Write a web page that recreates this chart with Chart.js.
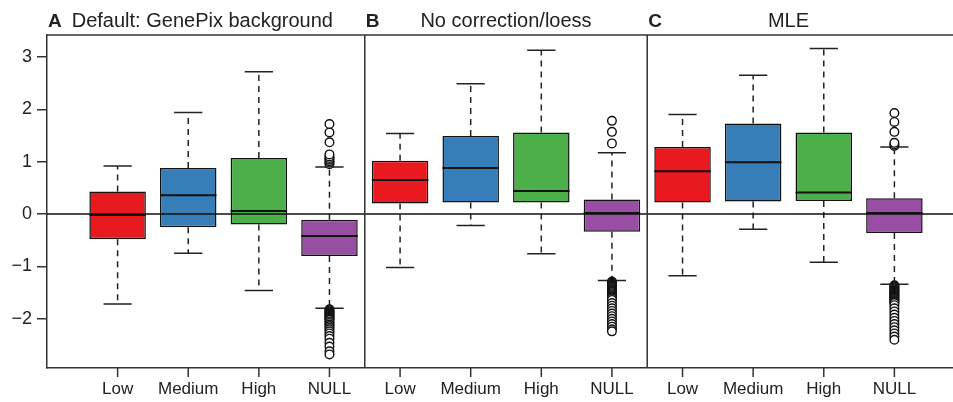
<!DOCTYPE html>
<html><head><meta charset="utf-8">
<script src="https://cdn.jsdelivr.net/npm/chart.js@4/dist/chart.umd.min.js"></script>
<style>html,body{margin:0;padding:0;background:#fff;overflow:hidden}#wrap{width:953px;height:402px;position:absolute;left:0;top:0}</style>
</head><body><div id="wrap"><canvas id="c"></canvas></div>
<script>
const categories = ["Low","Medium","High","NULL"];
const panelTitles = ["Default: GenePix background","No correction/loess","MLE"];
const panelLetters = ["A","B","C"];
const yTickValues = [-2,-1,0,1,2,3];
const boxColors = ["#e8191f","#377eb8","#4daf4a","#984ea3"];

// Panel A
const lowerA = [-1.72,-0.75,-1.46,-1.80];
const q1A    = [-0.48,-0.25,-0.20,-0.80];
const medA   = [-0.02, 0.36, 0.06,-0.42];
const q3A    = [ 0.43, 0.88, 1.07,-0.11];
const upperA = [ 0.92, 1.94, 2.72, 0.90];
const outNullA = [0.95,0.98,1.01,1.04,1.07,1.10,1.14,1.37,1.56,1.72,
  -1.82,-1.84,-1.86,-1.88,-1.90,-1.92,-1.94,-1.96,-1.98,-2.00,-2.02,-2.05,-2.08,-2.11,-2.14,-2.17,-2.20,-2.24,-2.28,-2.33,-2.38,-2.46,-2.53,-2.62,-2.68];
// Panel B
const lowerB = [-1.02,-0.22,-0.76,-1.27];
const q1B    = [ 0.20, 0.22, 0.22,-0.34];
const medB   = [ 0.65, 0.88, 0.44, 0.02];
const q3B    = [ 1.02, 1.49, 1.56, 0.28];
const upperB = [ 1.54, 2.49, 3.13, 1.17];
const outNullB = [1.35,1.57,1.78,
  -1.29,-1.31,-1.33,-1.35,-1.37,-1.39,-1.41,-1.43,-1.45,-1.47,-1.49,-1.51,-1.53,-1.55,-1.57,-1.59,-1.61,-1.64,-1.70,-1.75,-1.80,-1.85,-1.90,-1.95,-2.00,-2.05,-2.10,-2.15,-2.20,-2.24];
// Panel C
const lowerC = [-1.18,-0.29,-0.92,-1.34];
const q1C    = [ 0.22, 0.24, 0.25,-0.36];
const medC   = [ 0.82, 0.99, 0.41, 0.02];
const q3C    = [ 1.28, 1.73, 1.56, 0.30];
const upperC = [ 1.90, 2.65, 3.16, 1.28];
const outNullC = [1.30,1.33,1.36,1.57,1.76,1.93,
  -1.36,-1.38,-1.40,-1.42,-1.44,-1.46,-1.48,-1.50,-1.52,-1.54,-1.56,-1.58,-1.60,-1.62,-1.64,-1.66,-1.68,-1.70,-1.74,-1.80,-1.86,-1.92,-1.98,-2.04,-2.10,-2.16,-2.22,-2.28,-2.34,-2.40];

const panels = [
  {lower:lowerA,q1:q1A,med:medA,q3:q3A,upper:upperA,out:outNullA},
  {lower:lowerB,q1:q1B,med:medB,q3:q3B,upper:upperB,out:outNullB},
  {lower:lowerC,q1:q1C,med:medC,q3:q3C,upper:upperC,out:outNullC}
];

// layout constants (x units: one box spacing)
const X_MIN = 0, X_MAX = 12.83, Y_MIN = -2.94, Y_MAX = 3.42;
const panelStart = [1,5,9];
const dividers = [4.5,8.5];
const titleCenters = [2.2,6.5,10.5];
const letterX = [0,4.5,8.5];
const CAP = 0.2, HALF = 0.4;

const boxData = [], boxBg = [], whisk = [], caps = [], meds = [], outs = [], xTicks = [];
panels.forEach((p,pi)=>{
  categories.forEach((c,ci)=>{
    const x = panelStart[pi]+ci;
    xTicks.push(x);
    boxData.push({x:x, y:[p.q1[ci],p.q3[ci]]});
    boxBg.push(boxColors[ci]);
    whisk.push({x:x,y:p.q3[ci]},{x:x,y:p.upper[ci]},{x:x,y:null},
               {x:x,y:p.q1[ci]},{x:x,y:p.lower[ci]},{x:x,y:null});
    caps.push({x:x-CAP,y:p.upper[ci]},{x:x+CAP,y:p.upper[ci]},{x:x,y:null},
              {x:x-CAP,y:p.lower[ci]},{x:x+CAP,y:p.lower[ci]},{x:x,y:null});
    meds.push({x:x-HALF,y:p.med[ci]},{x:x+HALF,y:p.med[ci]},{x:x,y:null});
  });
  const xn = panelStart[pi]+3;
  p.out.forEach(v=>outs.push({x:xn,y:v}));
});

const framePlugin = {
  id:'frame',
  afterDraw(chart){
    const {ctx, chartArea:a, scales:{x}} = chart;
    ctx.save();
    ctx.strokeStyle='#333'; ctx.lineWidth=1.5;
    ctx.beginPath();
    ctx.moveTo(a.left,a.top); ctx.lineTo(a.right,a.top);
    dividers.forEach(d=>{const px=x.getPixelForValue(d); ctx.moveTo(px,a.top); ctx.lineTo(px,a.bottom);});
    x.ticks.forEach(t=>{const px=x.getPixelForValue(t.value); ctx.moveTo(px,a.bottom); ctx.lineTo(px,a.bottom+9);});
    ctx.stroke();
    ctx.fillStyle='#222'; ctx.textBaseline='alphabetic';
    panelTitles.forEach((t,i)=>{
      ctx.font='20px "Liberation Sans", Arial, sans-serif';
      ctx.textAlign='center';
      ctx.fillText(t, x.getPixelForValue(titleCenters[i]), 27);
      ctx.font='bold 19px "Liberation Sans", Arial, sans-serif';
      ctx.textAlign='left';
      ctx.fillText(panelLetters[i], x.getPixelForValue(letterX[i])+1, 27);
    });
    ctx.restore();
  }
};

new Chart(document.getElementById('c'),{
  type:'bar',
  data:{datasets:[
    {type:'line',data:[{x:X_MIN,y:0},{x:X_MAX,y:0}],borderColor:'#111',borderWidth:1.5,pointRadius:0,order:0},
    {type:'scatter',data:outs,pointRadius:4.3,pointBackgroundColor:'#fff',pointBorderColor:'#111',pointBorderWidth:1.4,order:1},
    {type:'line',data:meds,borderColor:'#111',borderWidth:2,pointRadius:0,spanGaps:false,order:2},
    {type:'line',data:caps,borderColor:'#222',borderWidth:1.5,pointRadius:0,spanGaps:false,order:3},
    {type:'bar',data:boxData,backgroundColor:boxBg,borderColor:'#111',borderWidth:1.5,borderSkipped:false,categoryPercentage:0.8,barPercentage:1.0,order:4},
    {type:'line',data:whisk,borderColor:'#222',borderWidth:1.5,borderDash:[6,5],pointRadius:0,spanGaps:false,order:5}
  ]},
  options:{
    responsive:true,maintainAspectRatio:false,animation:false,
    layout:{autoPadding:false,padding:{top:35,right:0,left:0,bottom:0}},
    plugins:{legend:{display:false},tooltip:{enabled:false}},
    scales:{
      x:{type:'linear',min:X_MIN,max:X_MAX,offset:false,
        afterBuildTicks:(s)=>{s.ticks=xTicks.map(v=>({value:v}));},
        afterFit:(s)=>{s.height=34;s.paddingLeft=0;s.paddingRight=0;},
        ticks:{autoSkip:false,maxRotation:0,padding:11,color:'#222',font:{size:17,family:'"Liberation Sans", Arial, sans-serif'},
          callback:(v,i)=>categories[i%4]},
        grid:{display:false,offset:false,drawOnChartArea:false,drawTicks:false},
        border:{display:true,color:'#333',width:1.5}
      },
      y:{min:Y_MIN,max:Y_MAX,
        afterBuildTicks:(s)=>{s.ticks=yTickValues.map(v=>({value:v}));},
        afterFit:(s)=>{s.width=47;},
        ticks:{padding:5,color:'#222',font:{size:18,family:'"Liberation Sans", Arial, sans-serif'},
          callback:(v)=>v<0?'\u2212'+Math.abs(v):String(v)},
        grid:{drawOnChartArea:false,drawTicks:true,tickLength:10,color:'#333',lineWidth:1.5},
        border:{display:true,color:'#333',width:1.5}
      }
    }
  },
  plugins:[framePlugin]
});
</script></body></html>
